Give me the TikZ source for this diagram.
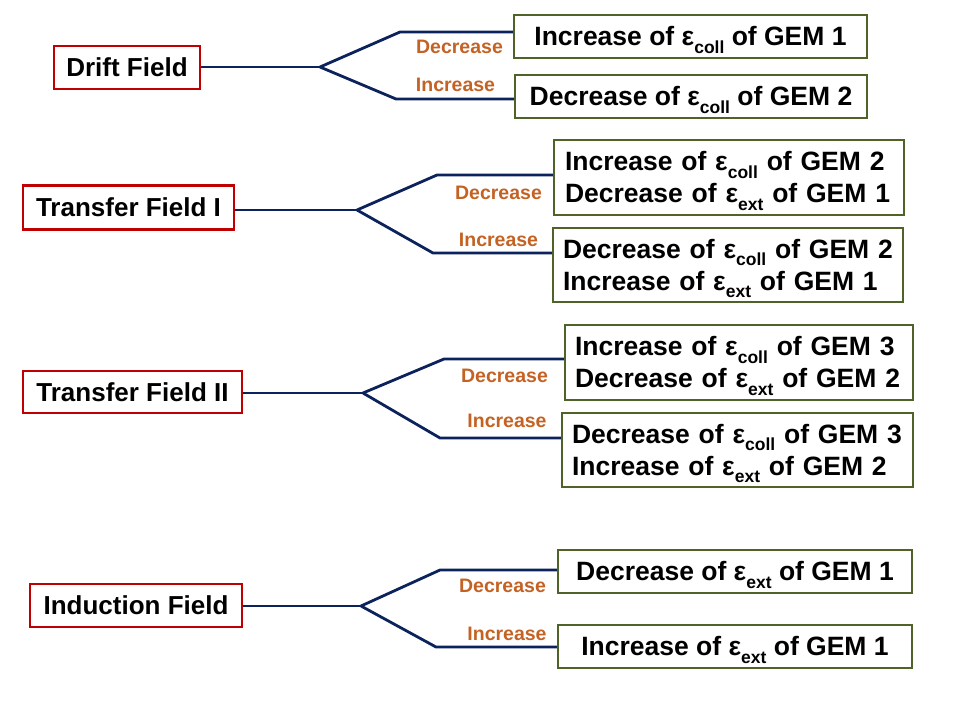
\documentclass[tikz,border=0pt]{standalone}
\usepackage{fontspec}
\setmainfont{Liberation Sans}
\definecolor{fieldred}{RGB}{192,0,0}
\definecolor{resgreen}{RGB}{79,98,40}
\definecolor{navyline}{RGB}{12,34,92}
\definecolor{laborange}{RGB}{196,98,36}
\newcommand{\epsub}[1]{ε\raisebox{-0.27em}[0pt][0pt]{\fontsize{0.66em}{0.66em}\selectfont #1}}
\newcommand{\twolines}[2]{\mbox{#1}\\\mbox{#2}}
\begin{document}
\begin{tikzpicture}[x=1pt,y=-1pt,
  field/.style={draw=fieldred, line width=2.5pt, font=\fontsize{26}{30}\selectfont\bfseries, inner sep=0pt},
  result/.style={draw=resgreen, line width=2.5pt, font=\fontsize{26.5}{32}\selectfont\bfseries, inner sep=0pt, align=left},
  single/.style={draw=resgreen, line width=2.5pt, font=\fontsize{26.5}{30}\selectfont\bfseries, inner sep=0pt, align=center},
  lab/.style={text=laborange, font=\fontsize{19.5}{22}\selectfont\bfseries, inner sep=0pt},
  conn/.style={draw=navyline, line width=2.8pt, line join=miter}]
\useasboundingbox (0,0) rectangle (960,720);

% ---- Drift Field
\node[field, minimum width=146, minimum height=43] (F1) at (127,67.5) {Drift Field};
\node[single, minimum width=353, minimum height=43] (B1a) at (690.5,36.5) {Increase of \epsub{coll} of GEM 1};
\node[single, minimum width=352, minimum height=43] (B1b) at (691,96.5) {Decrease of \epsub{coll} of GEM 2};
\coordinate (k1) at (320,67);
\coordinate (u1) at (400,32);
\coordinate (d1) at (396,99);
\node[lab] (L1a) at (459.5,47) {Decrease};
\node[lab] (L1b) at (455.5,85) {Increase};
\draw[conn] (k1 -| F1.east) -- (k1);
\draw[conn] (k1) -- (u1) -- (u1 -| B1a.west);
\draw[conn] (k1) -- (d1) -- (d1 -| B1b.west);

% ---- Transfer Field I
\node[field, minimum width=211, minimum height=44] (F2) at (128.5,207.5) {Transfer Field I};
\node[result, minimum width=350, minimum height=75, text width=328] (B2a) at (729,177.5) {\twolines{Increase of \epsub{coll} of GEM 2}{Decrease of \epsub{ext} of GEM 1}};
\node[result, minimum width=350, minimum height=74, text width=330] (B2b) at (728,265) {\twolines{Decrease of \epsub{coll} of GEM 2}{Increase of \epsub{ext} of GEM 1}};
\coordinate (k2) at (357,210);
\coordinate (u2) at (437,175);
\coordinate (d2) at (433,253);
\node[lab] (L2a) at (498.5,193) {Decrease};
\node[lab] (L2b) at (498.5,240) {Increase};
\draw[conn] (k2 -| F2.east) -- (k2);
\draw[conn] (k2) -- (u2) -- (u2 -| B2a.west);
\draw[conn] (k2) -- (d2) -- (d2 -| B2b.west);

% ---- Transfer Field II
\node[field, minimum width=219, minimum height=42] (F3) at (132.5,392) {Transfer Field II};
\node[result, minimum width=348, minimum height=75, text width=328] (B3a) at (739,362.5) {\twolines{Increase of \epsub{coll} of GEM 3}{Decrease of \epsub{ext} of GEM 2}};
\node[result, minimum width=351, minimum height=74, text width=331] (B3b) at (737.5,450) {\twolines{Decrease of \epsub{coll} of GEM 3}{Increase of \epsub{ext} of GEM 2}};
\coordinate (k3) at (363,393);
\coordinate (u3) at (444,359);
\coordinate (d3) at (440,438);
\node[lab] (L3a) at (504.5,376) {Decrease};
\node[lab] (L3b) at (507,421) {Increase};
\draw[conn] (k3 -| F3.east) -- (k3);
\draw[conn] (k3) -- (u3) -- (u3 -| B3a.west);
\draw[conn] (k3) -- (d3) -- (d3 -| B3b.west);

% ---- Induction Field
\node[field, minimum width=212, minimum height=43] (F4) at (136,605.5) {Induction Field};
\node[single, minimum width=354, minimum height=43] (B4a) at (735,571.5) {Decrease of \epsub{ext} of GEM 1};
\node[single, minimum width=354, minimum height=43] (B4b) at (735,646.5) {Increase of \epsub{ext} of GEM 1};
\coordinate (k4) at (361,606);
\coordinate (u4) at (440,570);
\coordinate (d4) at (436,647);
\node[lab] (L4a) at (502.5,586) {Decrease};
\node[lab] (L4b) at (507,634) {Increase};
\draw[conn] (k4 -| F4.east) -- (k4);
\draw[conn] (k4) -- (u4) -- (u4 -| B4a.west);
\draw[conn] (k4) -- (d4) -- (d4 -| B4b.west);
\end{tikzpicture}
\end{document}
